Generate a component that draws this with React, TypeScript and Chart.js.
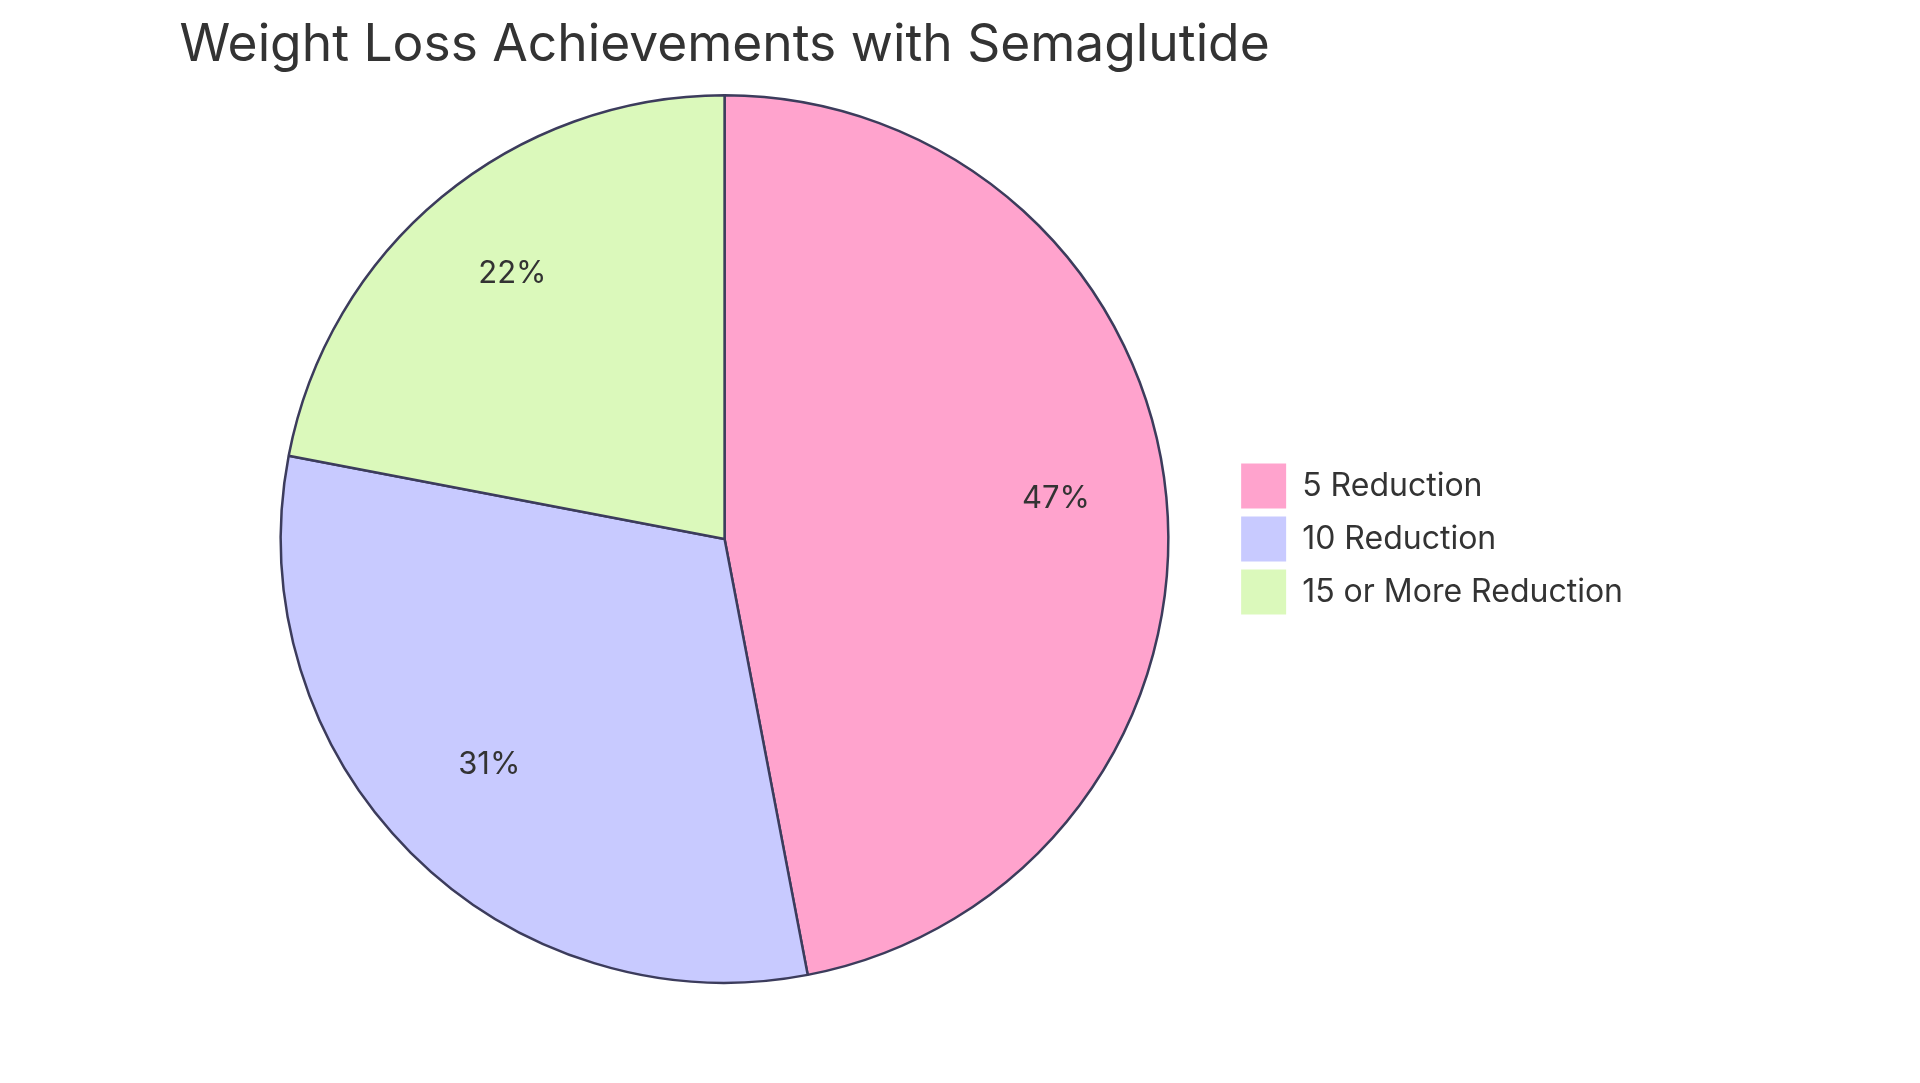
import { useEffect, useRef } from 'react'
import { Chart, registerables, Plugin } from 'chart.js'

Chart.register(...registerables)

// Chart data
const chartTitle = 'Weight Loss Achievements with Semaglutide'
const labels = ['5 Reduction', '10 Reduction', '15 or More Reduction']
const shares = [47, 31, 22]
const sliceColors = ['#FFA3CD', '#C8CAFF', '#DBF9BB']

const TEXT = '#333333'
const EDGE = '#3C3C5C'

// Title centred over the pie (the built-in title squeezes text wider than the chart area)
const pieTitle: Plugin<'pie'> = {
  id: 'pieTitle',
  afterDraw(chart) {
    const { ctx, chartArea } = chart
    ctx.save()
    ctx.font = '400 51.5px Inter'
    ctx.fillStyle = TEXT
    ctx.textAlign = 'center'
    ctx.textBaseline = 'alphabetic'
    ctx.fillText(chartTitle, (chartArea.left + chartArea.right) / 2, 61)
    ctx.restore()
  },
}

// Percentage labels at 0.75 of the radius, baseline on the centroid
const pctLabels: Plugin<'pie'> = {
  id: 'pctLabels',
  afterDatasetsDraw(chart) {
    const { ctx } = chart
    const meta = chart.getDatasetMeta(0)
    const total = shares.reduce((a, b) => a + b, 0)
    ctx.save()
    ctx.font = '400 31px Inter'
    ctx.fillStyle = TEXT
    ctx.textAlign = 'center'
    ctx.textBaseline = 'alphabetic'
    meta.data.forEach((el: any, i) => {
      const { x, y, startAngle, endAngle, outerRadius } = el.getProps(
        ['x', 'y', 'startAngle', 'endAngle', 'outerRadius'],
        true
      )
      const mid = (startAngle + endAngle) / 2
      const r = outerRadius * 0.75
      const pct = Math.round((shares[i] / total) * 100)
      ctx.fillText(`${pct}%`, x + Math.cos(mid) * r, y + Math.sin(mid) * r)
    })
    ctx.restore()
  },
}

const App = () => {
  const canvasRef = useRef<HTMLCanvasElement | null>(null)

  useEffect(() => {
    const ctx = canvasRef.current?.getContext('2d')
    if (!ctx) return

    const chart = new Chart(ctx, {
      type: 'pie',
      data: {
        labels,
        datasets: [
          {
            data: shares,
            backgroundColor: sliceColors,
            borderColor: EDGE,
            borderWidth: 2.5,
          },
        ],
      },
      plugins: [pctLabels, pieTitle],
      options: {
        responsive: false,
        animation: false,
        events: [],
        layout: {
          padding: { top: 94, bottom: 99, left: 216, right: 287 },
        },
        plugins: {
          title: { display: false },
          legend: {
            position: 'right',
            fullSize: false,
            labels: {
              boxWidth: 45,
              boxHeight: 45,
              padding: 8,
              color: TEXT,
              font: { family: 'Inter', size: 32 },
              generateLabels: () =>
                labels.map((text, i) => ({
                  text,
                  fillStyle: sliceColors[i],
                  strokeStyle: sliceColors[i],
                  lineWidth: 0,
                  fontColor: TEXT,
                  hidden: false,
                  index: i,
                })),
            },
          },
          tooltip: { enabled: false },
        },
      },
    })

    return () => {
      chart.destroy()
    }
  }, [])

  return (
    <div style={{ position: 'absolute', left: 0, top: 0, width: 1920, height: 1083, background: '#fff' }}>
      <canvas ref={canvasRef} width={1920} height={1083} style={{ display: 'block' }} />
    </div>
  )
}

export default App
